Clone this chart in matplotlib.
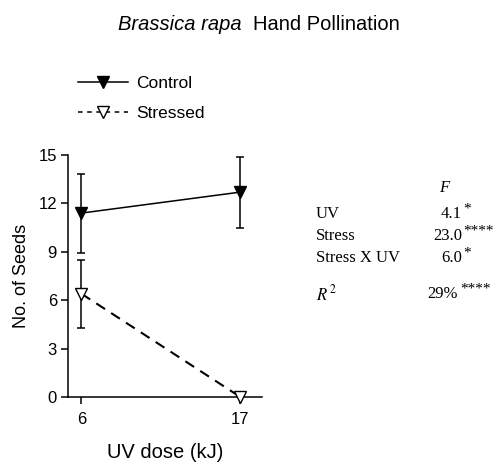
import matplotlib
matplotlib.use("Agg")
import matplotlib.pyplot as plt
from matplotlib.lines import Line2D

uv_dose = [6, 17]
control = [11.4, 12.7]
control_err = [2.45, 2.2]
stressed = [6.4, 0.0]
stressed_err = [2.1, 0.0]
yticks = [0, 3, 6, 9, 12, 15]

stat_names = ["UV", "Stress", "Stress X UV"]
stat_values = ["4.1", "23.0", "6.0"]
stat_stars = ["*", "****", "*"]
r2_value = "29%"
r2_stars = "****"

sans = "Liberation Sans"
serif = "Liberation Serif"
W, H = 501, 465

def fx(px):
    return px / W

def fy(py):
    return 1 - py / H

fig = plt.figure(figsize=(5.01, 4.65), dpi=100)
ax = fig.add_axes([fx(68), fy(397), (262 - 68) / W, (397 - 155) / H])

ax.errorbar(uv_dose, control, yerr=control_err, color="black", lw=1.1,
            marker="v", ms=9, mfc="black", mec="black", capsize=3,
            capthick=1.1, elinewidth=1.1, clip_on=False)
ax.errorbar(uv_dose[:1], stressed[:1], yerr=stressed_err[:1], color="black", lw=0,
            capsize=3, capthick=1.1, elinewidth=1.1, clip_on=False)
ax.plot(uv_dose, stressed, color="black", lw=1.5, ls=(0, (5, 3.5)),
        marker="v", ms=9, mfc="white", mec="black", mew=1.0, zorder=5, clip_on=False)

ax.set_xlim(5.07, 18.5)
ax.set_ylim(0, 15)
ax.set_xticks(uv_dose)
ax.set_yticks(yticks)
for s in ["top", "right"]:
    ax.spines[s].set_visible(False)
ax.spines["left"].set_linewidth(1.1)
ax.spines["bottom"].set_linewidth(1.1)
ax.tick_params(direction="out", length=5, width=1.1, labelsize=12, pad=3)
ax.tick_params(axis="x", pad=6)
for lab in ax.get_xticklabels() + ax.get_yticklabels():
    lab.set_fontfamily(sans)
ax.set_xlabel("UV dose (kJ)", fontsize=14.5, fontfamily=sans, labelpad=11)
ax.set_ylabel("No. of Seeds", fontsize=13, fontfamily=sans, labelpad=6)
ax.patch.set_visible(False)

# title
fig.text(fx(242), fy(24), "Brassica rapa", fontsize=14.5, ha="right", va="center",
         fontfamily=sans, style="italic")
fig.text(fx(253), fy(24), "Hand Pollination", fontsize=14.5, ha="left", va="center",
         fontfamily=sans)

# legend
h1 = Line2D([], [], color="black", lw=1.1, marker="v", ms=8, mfc="black")
h2 = Line2D([], [], color="black", lw=1.1, ls=(0, (3, 3)), marker="v", ms=8, mfc="white")
fig.legend([h1, h2], ["Control", "Stressed"], loc="upper left",
           bbox_to_anchor=(fx(69), fy(67)), frameon=False, borderpad=0,
           prop={"family": sans, "size": 12.5}, handlelength=2.9,
           handletextpad=0.45, labelspacing=0.85)

# stats
fs = 12
fig.text(fx(444), fy(188), "F", fontsize=fs, fontfamily=serif, style="italic",
         ha="center", va="center")
ys = [214, 236, 258]
for name, val, st, y in zip(stat_names, stat_values, stat_stars, ys):
    fig.text(fx(316), fy(y), name, fontsize=fs, fontfamily=serif, ha="left", va="center")
    fig.text(fx(462), fy(y), val, fontsize=fs, fontfamily=serif, ha="right", va="center")
    fig.text(fx(463), fy(y - 5), st, fontsize=11, fontfamily=serif, ha="left", va="center")
fig.text(fx(316), fy(294), r"$R^{\,2}$", fontsize=fs, ha="left", va="center",
         math_fontfamily="stix")
fig.text(fx(458), fy(294), r2_value, fontsize=fs, fontfamily=serif, ha="right", va="center")
fig.text(fx(460), fy(289), r2_stars, fontsize=11, fontfamily=serif, ha="left", va="center")

fig.savefig("out.png", dpi=100)
